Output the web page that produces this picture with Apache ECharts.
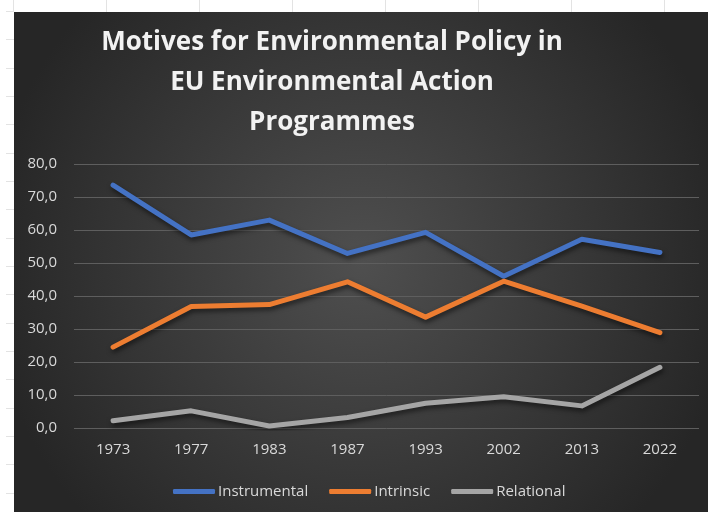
<!DOCTYPE html>
<html>
<head>
<meta charset="utf-8">
<script src="https://cdn.jsdelivr.net/npm/echarts@6/dist/echarts.min.js"></script>
<style>
  html, body { margin: 0; padding: 0; background: #ffffff; width: 708px; height: 512px; overflow: hidden; }
  #sheetH { position: absolute; left: 6px; top: 0; width: 8px; height: 512px;
    background: repeating-linear-gradient(to bottom, transparent 0px, transparent 11px, #e3e3e3 11px, #e3e3e3 12px, transparent 12px, transparent 28.33px); }
  #sheetV { position: absolute; left: 0; top: 0; width: 708px; height: 12px;
    background: repeating-linear-gradient(to right, transparent 0px, transparent 13px, #e3e3e3 13px, #e3e3e3 14px, transparent 14px, transparent 93px); }
  #chart { position: absolute; left: 14px; top: 12px; width: 694px; height: 500px; }
</style>
</head>
<body>
<div id="sheetH"></div>
<div id="sheetV"></div>
<div id="chart"></div>
<script>
const titleText = 'Motives for Environmental Policy in\nEU Environmental Action\nProgrammes';
const years = ['1973', '1977', '1983', '1987', '1993', '2002', '2013', '2022'];
const instrumental = [73.6, 58.5, 63.0, 52.9, 59.3, 46.0, 57.2, 53.2];
const intrinsic = [24.5, 36.8, 37.4, 44.3, 33.6, 44.5, 36.9, 28.9];
const relational = [2.2, 5.2, 0.6, 3.2, 7.5, 9.5, 6.7, 18.4];
const seriesNames = ['Instrumental', 'Intrinsic', 'Relational'];
const colors = ['#4472C4', '#ED7D31', '#A5A5A5'];

const chart = echarts.init(document.getElementById('chart'), null, { renderer: 'canvas' });
const FONT = '"Open Sans", "DejaVu Sans", sans-serif';

function mkSeries(name, data, color) {
  return {
    name: name,
    type: 'line',
    data: data,
    showSymbol: false,
    symbol: 'none',
    color: color,
    lineStyle: {
      width: 5,
      color: color,
      cap: 'round',
      join: 'round',
      shadowColor: 'rgba(0,0,0,0.55)',
      shadowBlur: 5,
      shadowOffsetX: 1,
      shadowOffsetY: 3
    },
    emphasis: { disabled: true },
    animation: false
  };
}

chart.setOption({
  animation: false,
  backgroundColor: {
    type: 'radial', x: 0.5, y: 0.5, r: 0.75,
    colorStops: [
      { offset: 0, color: '#4f4f4f' },
      { offset: 1, color: '#262626' }
    ]
  },
  graphic: [{
    type: 'text',
    x: 318,
    y: 71,
    style: {
      text: titleText,
      align: 'center',
      verticalAlign: 'middle',
      lineHeight: 40,
      font: 'bold 26px ' + FONT,
      fill: '#f2f2f2',
      shadowColor: 'rgba(0,0,0,0.8)',
      shadowBlur: 4,
      shadowOffsetX: 1,
      shadowOffsetY: 2
    }
  }],
  grid: { left: 60, right: 9, top: 152, bottom: 84, containLabel: false },
  legend: {
    data: seriesNames,
    left: 154,
    top: 467,
    icon: 'roundRect',
    itemWidth: 42,
    itemHeight: 5,
    itemGap: 21,
    textStyle: { color: '#d9d9d9', fontSize: 15, fontFamily: FONT, padding: [0, 0, 0, -2] }
  },
  xAxis: {
    type: 'category',
    data: years,
    boundaryGap: true,
    axisLine: { show: false },
    axisTick: { show: false },
    axisLabel: { color: '#d9d9d9', fontSize: 15, fontFamily: FONT, margin: 14 }
  },
  yAxis: {
    type: 'value',
    min: 0,
    max: 80,
    interval: 10,
    axisLine: { show: false },
    axisTick: { show: false },
    splitLine: { lineStyle: { color: '#5e5e5e', width: 1 } },
    axisLabel: {
      color: '#d9d9d9', fontSize: 15, fontFamily: FONT, margin: 17,
      formatter: v => v.toFixed(1).replace('.', ',')
    }
  },
  series: [
    mkSeries(seriesNames[0], instrumental, colors[0]),
    mkSeries(seriesNames[1], intrinsic, colors[1]),
    mkSeries(seriesNames[2], relational, colors[2])
  ]
});
</script>
</body>
</html>
